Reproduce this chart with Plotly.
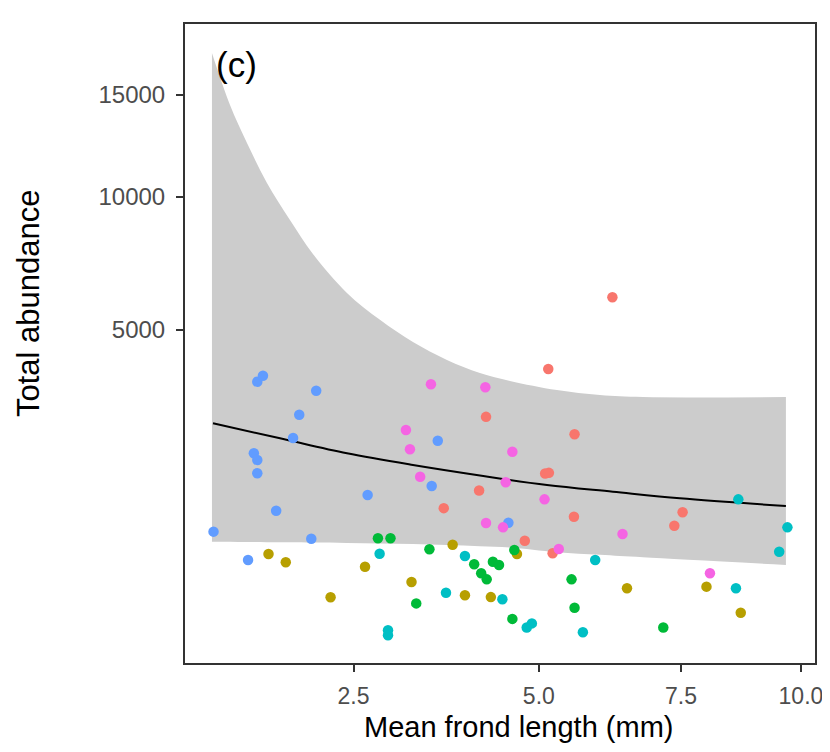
import numpy as np
import plotly.graph_objects as go

# points: mean frond length (mm) and total abundance, per group
red_x = [6.23, 5.15, 4.20, 5.58, 5.10, 5.16, 4.10, 3.61, 5.57, 4.78, 5.22, 7.53, 7.37]
red_y = [6070, 3860, 2660, 2280, 1530, 1540, 1250, 990, 875, 590, 463, 933, 762]

olive_x = [1.64, 1.80, 2.63, 2.25, 3.19, 3.73, 3.90, 4.27, 4.66, 6.49, 8.00, 8.70]
olive_y = [456, 382, 345, 140, 231, 548, 151, 141, 456, 191, 201, 71]

green_x = [2.78, 2.93, 3.42, 4.03, 4.13, 4.21, 4.30, 4.39, 3.25, 4.62, 5.53, 5.58, 4.59, 7.16]
green_y = [616, 616, 502, 365, 293, 249, 387, 359, 110, 495, 249, 91, 50, 27]

cyan_x = [2.80, 2.90, 2.90, 3.90, 3.64, 4.44, 4.81, 4.89, 5.72, 5.93, 8.65, 9.70, 9.52, 8.60]
cyan_y = [459, 21, 12, 438, 165, 130, 27, 37, 17, 402, 1116, 742, 478, 191]

blue_x = [1.54, 1.59, 2.10, 1.93, 1.87, 1.51, 1.54, 1.54, 3.53, 1.71, 2.66, 3.45, 1.18, 2.05, 1.46, 4.53]
blue_y = [3519, 3677, 3287, 2709, 2201, 1896, 1770, 1532, 2146, 955, 1181, 1321, 691, 612, 402, 799]

pink_x = [3.44, 4.19, 3.12, 3.17, 3.30, 4.20, 4.45, 4.49, 5.09, 6.41, 5.32, 8.07, 4.59]
pink_y = [3451, 3374, 2370, 1974, 1474, 795, 742, 1381, 1116, 664, 505, 293, 1927]

# confidence band and fitted line
band_x = [1.168, 1.310, 1.451, 1.626, 1.840, 2.067, 2.427, 2.804, 3.208, 3.653,
          4.112, 4.554, 5.290, 6.012, 6.780, 9.667]
band_hi = [17350, 14460, 12520, 10630, 9010, 7650, 6220, 5320, 4630, 4110,
           3750, 3540, 3305, 3180, 3130, 3130]
band_lo = [580, 579, 576, 575, 573, 571, 566, 562, 556, 545,
           532, 519, 473, 449, 426, 359]

fit_x = [1.176, 1.746, 2.427, 3.208, 4.112, 5.129, 6.239, 7.478, 9.667]
fit_y = [2515, 2195, 1896, 1678, 1494, 1337, 1231, 1131, 1020]

x_ticks = [2.5, 5.0, 7.5, 10.0]
x_ticklabels = ['2.5', '5.0', '7.5', '10.0']
y_ticks = [5000, 10000, 15000]
y_ticklabels = ['5000', '10000', '15000']

groups = [
    (red_x, red_y, '#F8766D'),
    (olive_x, olive_y, '#B79F00'),
    (green_x, green_y, '#00BA38'),
    (cyan_x, cyan_y, '#00BFC4'),
    (blue_x, blue_y, '#619CFF'),
    (pink_x, pink_y, '#F564E3'),
]

# both axes are square-root scaled in the original
sq = np.sqrt
font = 'Liberation Sans, Arial, sans-serif'

fig = go.Figure()
bx = sq(np.array(band_x))
fig.add_trace(go.Scatter(x=bx, y=sq(np.array(band_lo)), mode='lines',
                         line=dict(width=0, shape='spline'), hoverinfo='skip', showlegend=False))
fig.add_trace(go.Scatter(x=bx, y=sq(np.array(band_hi)), mode='lines', fill='tonexty',
                         fillcolor='#CCCCCC', line=dict(width=0, shape='spline'),
                         hoverinfo='skip', showlegend=False))
fig.add_trace(go.Scatter(x=sq(np.array(fit_x)), y=sq(np.array(fit_y)), mode='lines',
                         line=dict(color='black', width=2, shape='spline'), showlegend=False))
for gx, gy, col in groups:
    fig.add_trace(go.Scatter(x=sq(np.array(gx)), y=sq(np.array(gy)), mode='markers',
                             marker=dict(color=col, size=10.5), showlegend=False))

# the page body has an 8px margin, so the margins are shifted to compensate
fig.update_layout(
    width=830, height=752,
    margin=dict(l=177, r=23, t=16, b=97),
    paper_bgcolor='white', plot_bgcolor='white',
    font=dict(family=font),
)
fig.update_xaxes(range=[0.9855, 3.212], tickvals=sq(np.array(x_ticks)), ticktext=x_ticklabels,
                 showgrid=False, zeroline=False, showline=True, mirror=True,
                 linecolor='#333333', linewidth=2, ticks='outside', ticklen=7,
                 tickcolor='#333333', tickwidth=1.5, ticklabelstandoff=4,
                 tickfont=dict(size=23, color='#4d4d4d', family=font))
fig.update_yaxes(range=[-2.64, 138.1], tickvals=sq(np.array(y_ticks)), ticktext=y_ticklabels,
                 showgrid=False, zeroline=False, showline=True, mirror=True,
                 linecolor='#333333', linewidth=2, ticks='outside', ticklen=7,
                 tickcolor='#333333', tickwidth=1.5, ticklabelstandoff=6,
                 tickfont=dict(size=24, color='#4d4d4d', family=font))

fig.add_annotation(text='(c)', xref='paper', yref='paper', x=0.046, y=0.9366,
                   xanchor='left', yanchor='middle', showarrow=False,
                   font=dict(size=35, color='black', family=font))
fig.add_annotation(text='Mean frond length (mm)', xref='paper', yref='paper',
                   x=(518 - 185) / 630, y=(663 - 727) / 639, xanchor='center', yanchor='middle',
                   showarrow=False, font=dict(size=29, color='black', family=font))
fig.add_annotation(text='Total abundance', xref='paper', yref='paper',
                   x=(28 - 185) / 630, y=(663 - 303) / 639, xanchor='center', yanchor='middle',
                   textangle=-90, showarrow=False, font=dict(size=31, color='black', family=font))

fig.write_html("out.html")
